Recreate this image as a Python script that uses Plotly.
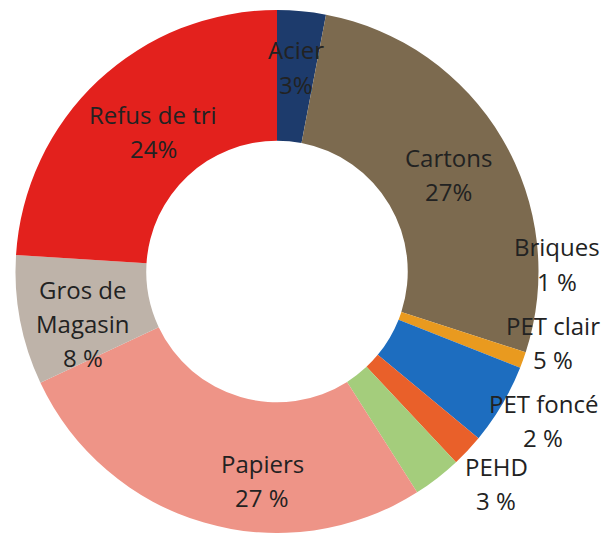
import plotly.graph_objects as go

# Composition of sorted waste, in percent (clockwise from 12 o'clock)
categories = ["Acier", "Cartons", "Briques", "PET clair", "PET foncé",
              "PEHD", "Papiers", "Gros de\nMagasin", "Refus de tri"]
shares = [3, 27, 1, 5, 2, 3, 27, 8, 24]
# separator between number and "%" as printed on each label
pct_sep = ["", "", " ", " ", " ", " ", " ", " ", ""]

colors = ["#1d3b6c", "#7c6a4f", "#e99a1f", "#1d6dbf", "#e9602a",
          "#a4cd7c", "#ee9487", "#beb3a9", "#e3211d"]

# label block centres in pixels (x from left, y from top)
label_pos = [(296, 67), (448, 174), (557, 264), (553, 342), (543, 420),
             (496, 483), (262, 480), (83, 323), (153, 131)]

W, H = 604, 533
LINE = 34

fig = go.Figure(go.Pie(
    labels=[c.replace("\n", " ") for c in categories],
    values=shares,
    sort=False,
    direction="clockwise",
    rotation=0,
    hole=0.5,
    textinfo="none",
    hoverinfo="label+percent",
    marker=dict(colors=colors, line=dict(width=0)),
    domain=dict(x=[15 / W, 539 / W], y=[0, 1 - 10 / H]),
    showlegend=False,
))

annotations = []
for name, val, sep, (cx, cy) in zip(categories, shares, pct_sep, label_pos):
    lines = name.split("\n") + [f"{val}{sep}%"]
    n = len(lines)
    for i, txt in enumerate(lines):
        py = cy + (i - (n - 1) / 2) * LINE
        annotations.append(dict(
            x=cx / W, y=1 - py / H, xref="paper", yref="paper",
            text=txt, showarrow=False, xanchor="center", yanchor="middle",
            font=dict(family="Open Sans", size=24, color="#222222"),
        ))

fig.update_layout(
    width=W, height=H,
    margin=dict(l=0, r=0, t=0, b=0),
    paper_bgcolor="white",
    plot_bgcolor="white",
    annotations=annotations,
)

fig.write_html("out.html")
